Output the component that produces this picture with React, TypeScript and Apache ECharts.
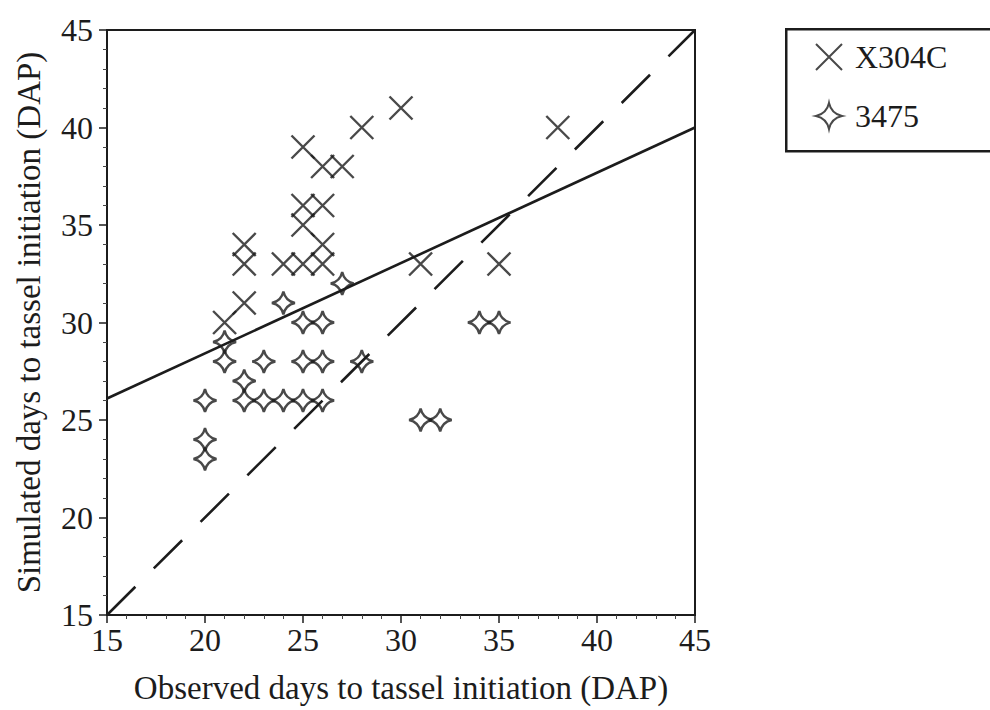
import React, { useEffect, useRef } from "react";
import * as echarts from "echarts";

const xTicks = [15, 20, 25, 30, 35, 40, 45];
const seriesNames = ["X304C", "3475"];
const x304c: number[][] = [
  [21, 30], [22, 34], [22, 33], [22, 31], [24, 33], [25, 33], [25, 39], [25, 36], [25, 35],
  [26, 38], [26, 36], [26, 34], [26, 33], [27, 38], [28, 40], [30, 41], [31, 33], [35, 33], [38, 40],
];
const s3475: number[][] = [
  [20, 26], [20, 24], [20, 23], [21, 29], [21, 28], [22, 27], [22, 26], [23, 28], [23, 26],
  [24, 31], [24, 26], [25, 30], [25, 28], [25, 26], [26, 30], [26, 28], [26, 26], [27, 32],
  [28, 28], [31, 25], [32, 25], [34, 30], [35, 30],
];
const regressionLine: number[][] = [[15, 26.1], [45, 40]];
const oneToOneLine: number[][] = [[15, 15], [45, 45]];

const CROSS = "path://M0,0 L20,20 M20,0 L0,20";
const STAR = "path://M10,0 Q11.8,8.2 20,10 Q11.8,11.8 10,20 Q8.2,11.8 0,10 Q8.2,8.2 10,0 Z";

const FONT = "'Liberation Serif', 'DejaVu Serif', serif";
const INK = "#1c1c1c";

export default function App() {
  const ref = useRef<HTMLDivElement>(null);
  useEffect(() => {
    if (!ref.current) return;
    const chart = echarts.init(ref.current, null, { renderer: "svg" });
    chart.setOption({
      animation: false,
      backgroundColor: "#fff",
      grid: {
        left: 107, top: 30, right: 295, bottom: 95,
        show: true, borderColor: INK, borderWidth: 2, backgroundColor: "transparent",
      },
      xAxis: {
        type: "value", min: 15, max: 45, interval: 5,
        name: "Observed days to tassel initiation (DAP)",
        nameLocation: "middle", nameGap: 56,
        nameTextStyle: { fontFamily: FONT, fontSize: 33, color: INK },
        axisLine: { show: true, lineStyle: { color: INK, width: 2 } },
        axisTick: { show: true, inside: false, length: 8, lineStyle: { color: INK, width: 1.5 } },
        minorTick: { show: true, splitNumber: 5, length: 4, lineStyle: { color: "#444", width: 1 } },
        splitLine: { show: false },
        axisLabel: {
          fontFamily: FONT, fontSize: 32, color: INK, margin: 9,
          formatter: (v: number) => (xTicks.includes(v) ? String(v) : ""),
        },
      },
      yAxis: {
        type: "value", min: 15, max: 45, interval: 5,
        name: "Simulated days to tassel initiation (DAP)",
        nameLocation: "middle", nameGap: 62,
        nameTextStyle: { fontFamily: FONT, fontSize: 33, color: INK },
        axisLine: { show: true, lineStyle: { color: INK, width: 2 } },
        axisTick: { show: true, inside: false, length: 8, lineStyle: { color: INK, width: 1.5 } },
        minorTick: { show: true, splitNumber: 5, length: 4, lineStyle: { color: "#444", width: 1 } },
        splitLine: { show: false },
        axisLabel: { fontFamily: FONT, fontSize: 32, color: INK, margin: 14 },
      },
      legend: {
        orient: "vertical", left: 810, top: 36, itemGap: 27,
        itemWidth: 26, itemHeight: 26,
        textStyle: { fontFamily: FONT, fontSize: 32, color: INK, padding: [0, 0, 0, 8] },
        data: [
          { name: seriesNames[0], icon: CROSS, itemStyle: { color: "transparent", borderColor: INK, borderWidth: 2 } },
          { name: seriesNames[1], icon: STAR, itemStyle: { color: "transparent", borderColor: INK, borderWidth: 2 } },
        ],
      },
      graphic: [
        {
          type: "rect", left: 785, top: 28,
          shape: { width: 220, height: 122 },
          style: { fill: "transparent", stroke: INK, lineWidth: 2.5 },
        },
      ],
      series: [
        {
          name: seriesNames[0], type: "scatter", data: x304c,
          symbol: CROSS, symbolSize: 23,
          itemStyle: { color: "transparent", borderColor: INK, borderWidth: 2.4 },
          z: 3,
        },
        {
          name: seriesNames[1], type: "scatter", data: s3475,
          symbol: STAR, symbolSize: 23,
          itemStyle: { color: "transparent", borderColor: INK, borderWidth: 2.4 },
          z: 3,
        },
        {
          name: "regression", type: "line", data: regressionLine, showSymbol: false, symbol: "none",
          lineStyle: { color: INK, width: 2.6 }, z: 4, silent: true,
        },
        {
          name: "1:1", type: "line", data: oneToOneLine, showSymbol: false, symbol: "none",
          lineStyle: { color: INK, width: 2.6, type: [40, 26] }, z: 4, silent: true,
        },
      ],
    });
    return () => chart.dispose();
  }, []);
  return <div ref={ref} style={{ width: 990, height: 710, position: "absolute", left: 0, top: 0 }} />;
}
